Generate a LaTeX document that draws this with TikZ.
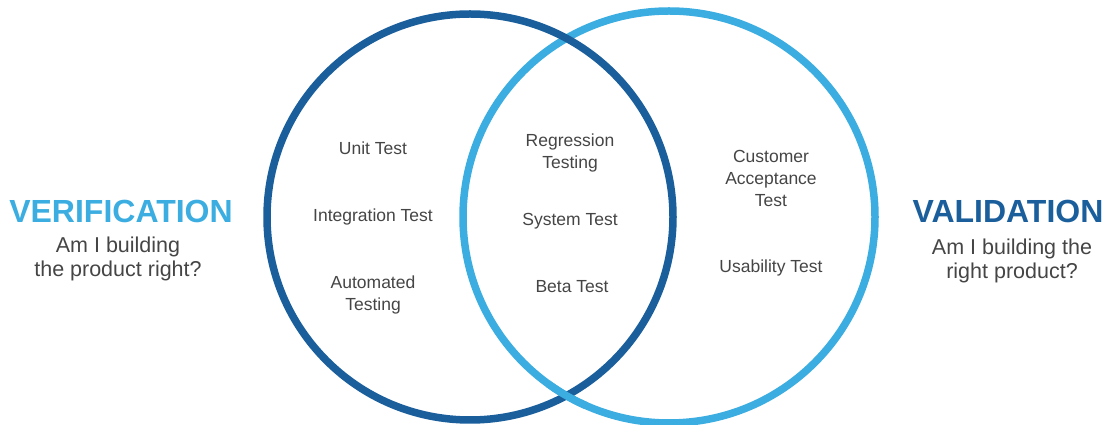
\documentclass[tikz,border=0pt]{standalone}
\usepackage{fontspec}
\setmainfont{Liberation Sans}
\definecolor{verifblue}{HTML}{3BADE0}
\definecolor{validblue}{HTML}{1A5F9C}
\definecolor{labelgray}{HTML}{454545}
\tikzset{
  ring/.style={line width=7.5pt},
  title/.style={inner sep=0pt, font=\fontsize{32}{36}\selectfont\bfseries},
  question/.style={inner sep=0pt, align=center, text=labelgray, font=\fontsize{21.5}{23.5}\selectfont},
  item/.style={inner sep=0pt, align=center, text=labelgray, font=\fontsize{17.5}{22}\selectfont}
}
\begin{document}
\begin{tikzpicture}[x=1pt,y=1pt]
\useasboundingbox (0,0) rectangle (1111,425);
% the two rings
\draw[ring, verifblue] (669,208) circle (206);
\draw[ring, validblue] (470,208) circle (203);
\begin{scope}
\clip (566,29) circle (22);
\draw[ring, verifblue] (669,208) circle (206);
\end{scope}
% side titles
\node[title, text=verifblue] (verif) at (121,214) {VERIFICATION};
\node[question] (verifq) at (118,166) {Am I building\\the product right?};
\node[title, text=validblue] (valid) at (1008,214) {VALIDATION};
\node[question] (validq) at (1012,164) {Am I building the\\right product?};
% left ring
\node[item] (unit) at (373,277) {Unit Test};
\node[item] (integ) at (373,208) {Integration Test};
\node[item] (autom) at (373,130) {Automated\\Testing};
% overlap
\node[item] (regr) at (570,272) {Regression\\Testing};
\node[item] (syst) at (570,204) {System Test};
\node[item] (beta) at (572,138) {Beta Test};
% right ring
\node[item] (cust) at (771,247) {Customer\\Acceptance\\Test};
\node[item] (usab) at (771,157) {Usability Test};
\end{tikzpicture}
\end{document}
